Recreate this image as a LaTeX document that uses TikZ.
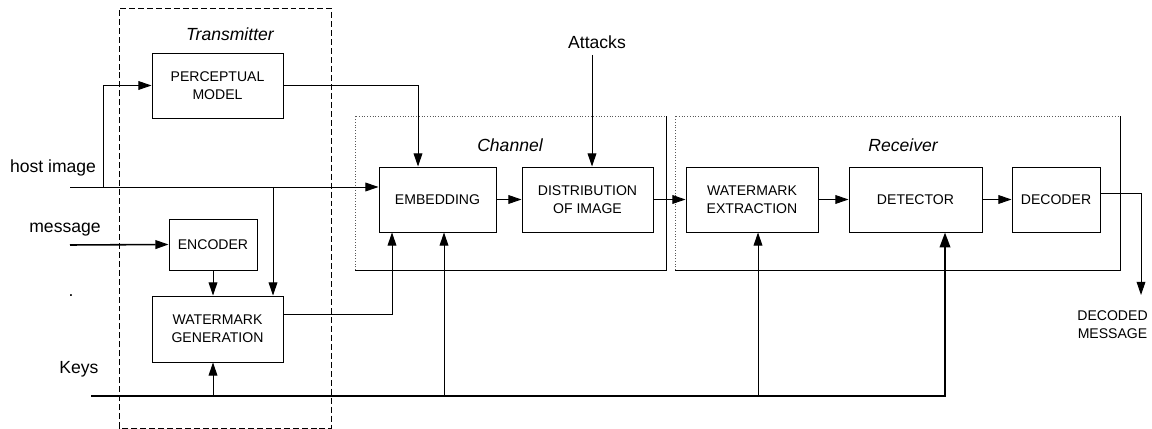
\documentclass[tikz,border=0pt]{standalone}
\usepackage{fontspec}
\setmainfont{Liberation Sans}
\usetikzlibrary{arrows.meta}
\begin{document}
\begin{tikzpicture}[line width=0.55pt,
        block/.style={draw, align=center, inner sep=0pt, font=\fontsize{8}{10.2}\selectfont},
        caps/.style={align=center, inner sep=0pt, font=\fontsize{8}{10.2}\selectfont},
        lbl/.style={font=\fontsize{10}{12}\selectfont},
        title/.style={font=\fontsize{10}{12}\selectfont\itshape},
        arr/.style={-{Triangle[length=7.5pt, width=5pt]}},
        keyline/.style={line width=1.1pt, -{Triangle[length=8.5pt, width=6pt]}},
        frame/.style={black!65, densely dotted}]
        \useasboundingbox (0,0) rectangle (23.04,8.58);
        \draw[dash pattern=on 3.4pt off 1.7pt] (2.38,0.02) rectangle (6.62,8.42);
        \draw[frame] (7.1,3.18) |- (13.32,6.26);
        \draw (7.1,3.18) -| (13.32,6.26);
        \draw[frame] (13.5,3.18) |- (22.4,6.26);
        \draw (13.5,3.18) -| (22.4,6.26);
        \node[title] (tx) at (4.6,7.9) {Transmitter};
        \node[title] (ch) at (10.2,5.68) {Channel};
        \node[title] (rx) at (18.06,5.68) {Receiver};
        \node[block, minimum width=2.62cm, minimum height=1.3cm] (pm) at (4.35,6.87) {PERCEPTUAL\\MODEL};
        \node[block, minimum width=1.76cm, minimum height=1.02cm] (enc) at (4.26,3.69) {ENCODER};
        \node[block, minimum width=2.62cm, minimum height=1.32cm] (wmg) at (4.35,2.0) {WATERMARK\\GENERATION};
        \node[block, minimum width=2.34cm, minimum height=1.3cm] (emb) at (8.75,4.59) {EMBEDDING};
        \node[block, minimum width=2.62cm, minimum height=1.3cm] (dist) at (11.75,4.59) {DISTRIBUTION\\OF IMAGE};
        \node[block, minimum width=2.64cm, minimum height=1.3cm] (wex) at (15.04,4.59) {WATERMARK\\EXTRACTION};
        \node[block, minimum width=2.66cm, minimum height=1.3cm] (det) at (18.31,4.59) {DETECTOR};
        \node[block, minimum width=1.76cm, minimum height=1.3cm] (dec) at (21.12,4.59) {DECODER};
        \node[lbl] (host) at (1.06,5.22) {host image};
        \node[lbl] (msg) at (1.3,3.98) {message};
        \node[lbl, inner sep=0pt] (dot) at (1.42,2.66) {.};
        \node[lbl] (keys) at (1.58,1.2) {Keys};
        \node[lbl] (att) at (11.94,7.74) {Attacks};
        \node[caps] (dmsg) at (22.25,2.08) {DECODED\\MESSAGE};
        \coordinate (hin) at (1.4,4.84);
        \coordinate (hbr) at (2.06,4.84);
        \coordinate (htap) at (5.46,4.84);
        \coordinate (min) at (1.4,3.68);
        \coordinate (kin) at (1.82,0.66);
        \coordinate (dout) at (22.82,2.68);
        \draw[arr] (hin) -- (hin -| emb.west);
        \draw[arr] (hbr) |- (pm.west);
        \draw[arr] (htap) -- (htap |- wmg.north);
        \draw[arr, line width=0.9pt] (min) -- (enc.west);
        \draw[arr] (enc.south) -- (enc.south |- wmg.north);
        \draw[arr] (pm.east) -| ([xshift=-0.39cm]emb.north);
        \draw[arr] ([yshift=0.3cm]wmg.east) -| ([xshift=-0.91cm]emb.south);
        \draw[arr] ([xshift=-0.1cm]att.south) -- ([xshift=-0.1cm]att.south |- dist.north);
        \draw[arr] (emb.east) -- (dist.west);
        \draw[arr] (dist.east) -- (wex.west);
        \draw[arr] (wex.east) -- (det.west);
        \draw[arr] (det.east) -- (dec.west);
        \draw[arr] ([yshift=0.13cm]dec.east) -| (dout);
        \draw[keyline] (kin) -| ([xshift=0.59cm]det.south);
        \draw[arr] (enc.south |- kin) -- (enc.south |- wmg.south);
        \draw[arr] ([xshift=0.13cm]emb.south |- kin) -- ([xshift=0.13cm]emb.south);
        \draw[arr] ([xshift=0.12cm]wex.south |- kin) -- ([xshift=0.12cm]wex.south);
    \end{tikzpicture}
\end{document}
